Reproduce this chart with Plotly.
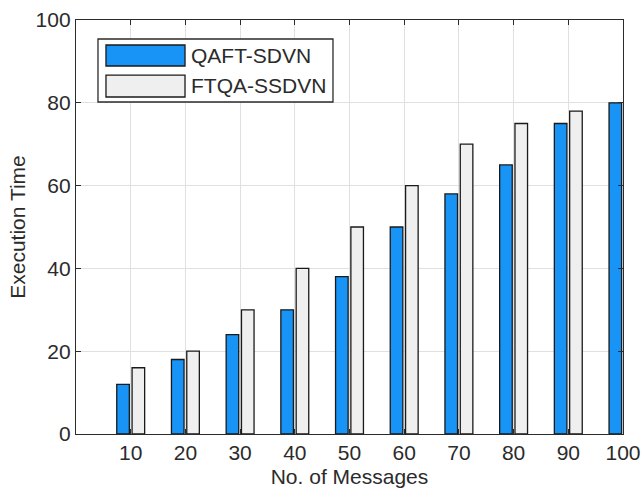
import plotly.graph_objects as go

messages = [10, 20, 30, 40, 50, 60, 70, 80, 90, 100]
qaft_sdvn = [12, 18, 24, 30, 38, 50, 58, 65, 75, 80]
ftqa_ssdvn = [16, 20, 30, 40, 50, 60, 70, 75, 78, 85]
y_ticks = [0, 20, 40, 60, 80, 100]
series_names = ["QAFT-SDVN", "FTQA-SSDVN"]

BLUE = "#1794F6"
GRAY = "#EFEFEF"
EDGE = "#1a1a1a"
TXT = "#2b2b2b"
FONT = "Liberation Sans, Arial, sans-serif"

fig = go.Figure()
fig.add_trace(go.Bar(x=messages, y=qaft_sdvn, name=series_names[0], width=2.3, offset=-2.55,
                     marker=dict(color=BLUE, line=dict(color=EDGE, width=1.3)), showlegend=False))
fig.add_trace(go.Bar(x=messages, y=ftqa_ssdvn, name=series_names[1], width=2.3, offset=0.25,
                     marker=dict(color=GRAY, line=dict(color=EDGE, width=1.3)), showlegend=False))

axis_common = dict(showline=True, linecolor=TXT, linewidth=1.3, mirror="ticks", ticks="inside",
                   ticklen=5, tickcolor=TXT, showgrid=True, gridcolor="#e0e0e0", gridwidth=1,
                   zeroline=False, automargin=False, tickfont=dict(size=21, color=TXT, family=FONT))

fig.update_xaxes(range=[0, 100], tickvals=messages, ticktext=[str(m) for m in messages],
                 title=dict(text="No. of Messages", font=dict(size=21, color=TXT, family=FONT), standoff=5),
                 **axis_common)
fig.update_yaxes(range=[0, 100], tickvals=y_ticks,
                 title=dict(text="Execution Time", font=dict(size=21, color=TXT, family=FONT), standoff=4),
                 **axis_common)

# legend box
shapes = [
    dict(type="rect", xref="paper", yref="paper", x0=0.0402, x1=0.4698, y0=0.8019, y1=0.9541,
         fillcolor="white", line=dict(color=TXT, width=1.3), layer="above"),
    dict(type="rect", xref="paper", yref="paper", x0=0.0548, x1=0.1993, y0=0.8889, y1=0.9396,
         fillcolor=BLUE, line=dict(color=EDGE, width=1.3), layer="above"),
    dict(type="rect", xref="paper", yref="paper", x0=0.0548, x1=0.1993, y0=0.814, y1=0.867,
         fillcolor=GRAY, line=dict(color=EDGE, width=1.3), layer="above"),
]
annotations = [
    dict(xref="paper", yref="paper", x=0.2066, y=0.914, text=series_names[0], showarrow=False,
         xanchor="left", yanchor="middle", font=dict(size=21, color=TXT, family=FONT)),
    dict(xref="paper", yref="paper", x=0.2066, y=0.8406, text=series_names[1], showarrow=False,
         xanchor="left", yanchor="middle", font=dict(size=21, color=TXT, family=FONT)),
]

fig.update_layout(width=644, height=489, margin=dict(l=76, r=21, t=20, b=55),
                  paper_bgcolor="white", plot_bgcolor="white", barmode="overlay",
                  shapes=shapes, annotations=annotations, font=dict(family=FONT, color=TXT))

fig.write_html("out.html")
